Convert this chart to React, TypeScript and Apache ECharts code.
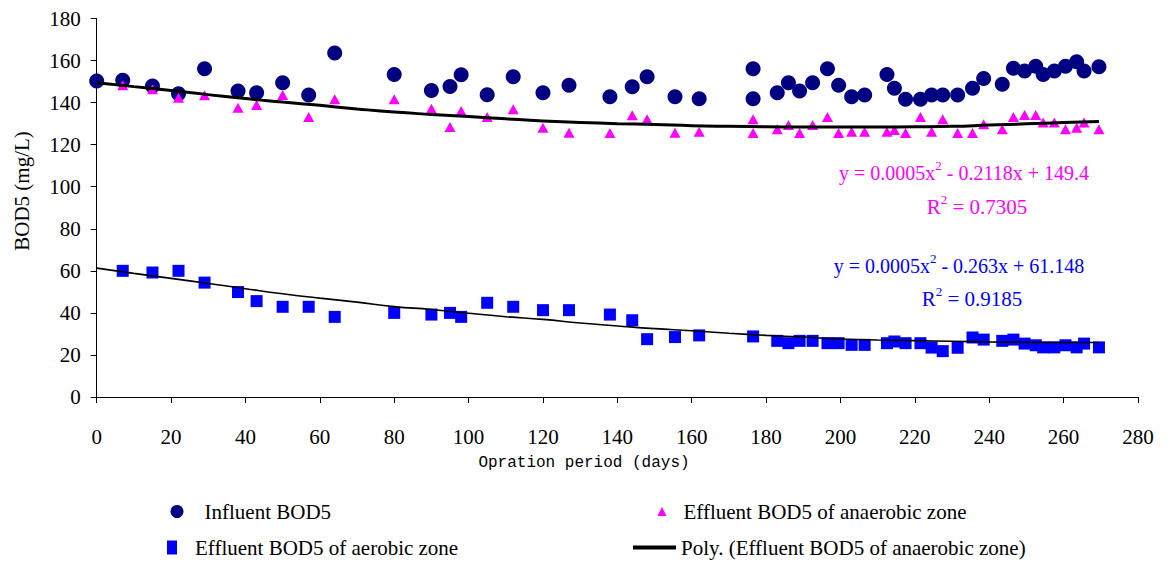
import React, { useEffect, useRef } from "react";
import * as echarts from "echarts";

const xTicks = { min: 0, max: 280, interval: 20 };
const yTicks = { min: 0, max: 180, interval: 20 };

const influentDays = [0, 7, 15, 22, 29, 38, 43, 50, 57, 64, 80, 90, 95, 98, 105, 112, 120, 127, 138, 144, 148, 155.5, 162, 176.5, 176.5, 183, 186, 189, 192.5, 196.5, 199.5, 203, 206.5, 212.5, 214.5, 217.5, 221.5, 224.5, 227.5, 231.5, 235.5, 238.5, 243.5, 246.5, 249.5, 252.5, 254.5, 257.5, 260.5, 263.5, 265.5, 269.5];
const influentValues = [150.3, 150.6, 147.9, 144.2, 156.1, 145.5, 144.7, 149.4, 143.6, 163.6, 153.4, 145.8, 147.7, 153.2, 143.7, 152.3, 144.7, 148.3, 142.8, 147.5, 152.3, 142.8, 141.8, 156.1, 141.8, 144.7, 149.4, 145.5, 149.4, 156.1, 148.3, 142.8, 143.6, 153.4, 146.8, 141.6, 141.6, 143.6, 143.6, 143.6, 146.8, 151.5, 148.7, 156.3, 155.0, 157.3, 153.4, 155.0, 157.3, 159.4, 155.0, 157.0];

const anaerobicDays = [7, 15, 22, 29, 38, 43, 50, 57, 64, 80, 90, 95, 98, 105, 112, 120, 127, 138, 144, 148, 155.5, 162, 176.5, 176.5, 183, 186, 189, 192.5, 196.5, 199.5, 203, 206.5, 212.5, 214.5, 217.5, 221.5, 224.5, 227.5, 231.5, 235.5, 238.5, 243.5, 246.5, 249.5, 252.5, 254.5, 257.5, 260.5, 263.5, 265.5, 269.5];
const anaerobicValues = [148.3, 146.3, 142.3, 143.5, 137.6, 138.9, 143.6, 133.2, 141.6, 141.6, 137.1, 128.4, 136.0, 133.2, 136.8, 128.1, 125.7, 125.5, 134.0, 132.1, 125.7, 126.2, 132.1, 125.5, 127.3, 129.4, 125.5, 129.4, 133.2, 125.5, 126.2, 126.2, 126.2, 127.0, 125.5, 133.2, 126.1, 132.1, 125.5, 125.5, 129.7, 127.3, 133.2, 134.1, 134.1, 130.5, 130.5, 127.3, 128.1, 130.5, 127.3];

const aerobicDays = [7, 15, 22, 29, 38, 43, 50, 57, 64, 80, 90, 95, 98, 105, 112, 120, 127, 138, 144, 148, 155.5, 162, 176.5, 183, 186, 189, 192.5, 196.5, 199.5, 203, 206.5, 212.5, 214.5, 217.5, 221.5, 224.5, 227.5, 231.5, 235.5, 238.5, 243.5, 246.5, 249.5, 252.5, 254.5, 257.5, 260.5, 263.5, 265.5, 269.5];
const aerobicValues = [60.0, 59.2, 60.0, 54.4, 49.9, 45.6, 42.9, 42.9, 38.1, 40.0, 39.2, 40.0, 38.1, 44.8, 42.9, 41.3, 41.3, 39.2, 36.5, 27.5, 28.5, 29.3, 28.8, 26.7, 25.6, 26.7, 26.7, 25.6, 25.6, 24.8, 24.8, 25.6, 26.4, 25.6, 25.6, 23.5, 21.8, 23.4, 28.3, 27.3, 26.7, 27.3, 25.4, 24.6, 23.6, 23.6, 24.6, 23.6, 25.4, 23.6];

const trendDays = [0, 10, 20, 30, 40, 50, 60, 70, 80, 90, 100, 110, 120, 130, 140, 150, 160, 170, 180, 190, 200, 210, 220, 230, 240, 250, 260, 269.5];
const trendAnaerobic = [149.4, 147.6, 145.8, 143.8, 141.9, 140.3, 138.7, 137.0, 135.5, 134.4, 133.4, 132.3, 131.3, 130.6, 130.0, 129.6, 129.0, 128.7, 128.5, 128.4, 128.4, 128.4, 128.5, 128.7, 129.3, 129.9, 130.5, 131.0];
const trendAerobic = [61.3, 58.8, 56.4, 54.0, 51.5, 49.1, 47.0, 45.1, 43.0, 41.6, 39.8, 38.2, 36.9, 35.2, 33.8, 32.5, 31.5, 30.3, 29.3, 28.5, 27.6, 27.1, 26.8, 26.5, 26.2, 26.0, 25.9, 25.9];

const seriesNames = [
  "Influent BOD5",
  "Effluent BOD5 of anaerobic zone",
  "Effluent BOD5 of aerobic zone",
  "Poly. (Effluent BOD5 of anaerobic zone)",
  "Poly. (Effluent BOD5 of aerobic zone)",
];
const yAxisTitle = "BOD5 (mg/L)";
const xAxisTitle = "Opration period (days)";

const SERIF = "Liberation Serif";
const MONO = "Liberation Mono";

const pairs = (xs: number[], ys: number[]) => xs.map((x, i) => [x, ys[i]]);

function eqText(pre: string, post: string, color: string, x: number, y: number, size: number) {
  return {
    type: "text",
    x,
    y,
    z: 10,
    style: {
      text: `{a|${pre}}{s|2}{a|${post}}`,
      align: "center",
      verticalAlign: "middle",
      rich: {
        a: { fill: color, fontSize: size, fontFamily: SERIF, lineHeight: 24, verticalAlign: "bottom" },
        s: { fill: color, fontSize: 13, fontFamily: SERIF, lineHeight: 24, verticalAlign: "top" },
      },
    },
  };
}

export default function App() {
  const ref = useRef<HTMLDivElement>(null);
  useEffect(() => {
    if (!ref.current) return;
    const chart = echarts.init(ref.current, undefined, { renderer: "svg" });
    const legendText = { color: "#000", fontSize: 21, fontFamily: SERIF };
    chart.setOption({
      animation: false,
      backgroundColor: "#fff",
      textStyle: { fontFamily: SERIF },
      grid: { left: 96.7, right: 30, top: 18.5, bottom: 166, containLabel: false },
      xAxis: {
        type: "value",
        ...xTicks,
        axisLine: { show: true, lineStyle: { color: "#000", width: 1 } },
        axisTick: { show: true, length: 6, lineStyle: { color: "#000" } },
        axisLabel: { color: "#000", fontSize: 21, fontFamily: SERIF, margin: 29 },
        splitLine: { show: false },
      },
      yAxis: {
        type: "value",
        ...yTicks,
        axisLine: { show: true, lineStyle: { color: "#000", width: 1 } },
        axisTick: { show: true, length: 6, lineStyle: { color: "#000" } },
        axisLabel: { color: "#000", fontSize: 21, fontFamily: SERIF, margin: 16 },
        splitLine: { show: false },
      },
      legend: [
        {
          data: [seriesNames[0]], left: 170.5, top: 501, padding: 0, selectedMode: false,
          icon: "circle", itemWidth: 13, itemHeight: 13, itemStyle: { opacity: 1 },
          textStyle: { ...legendText, padding: [0, 0, 0, 16] },
        },
        {
          data: [seriesNames[1]], left: 657.5, top: 501, padding: 0, selectedMode: false,
          icon: "triangle", itemWidth: 9, itemHeight: 9, itemStyle: { opacity: 1 },
          textStyle: { ...legendText, padding: [0, 0, 0, 12] },
        },
        {
          data: [seriesNames[2]], left: 167, top: 537, padding: 0, selectedMode: false,
          icon: "rect", itemWidth: 10, itemHeight: 14, itemStyle: { opacity: 1 },
          textStyle: { ...legendText, padding: [0, 0, 0, 13] },
        },
        {
          data: [seriesNames[3]], left: 633, top: 537, padding: 0, selectedMode: false,
          icon: "rect", itemWidth: 43, itemHeight: 4, itemStyle: { color: "#000", opacity: 1 },
          textStyle: { ...legendText, padding: [0, 0, 0, 0] },
        },
      ],
      series: [
        {
          name: seriesNames[0], type: "scatter", data: pairs(influentDays, influentValues),
          symbol: "circle", symbolSize: 15, itemStyle: { color: "#000080", opacity: 1 }, z: 2,
        },
        {
          name: seriesNames[1], type: "scatter", data: pairs(anaerobicDays, anaerobicValues),
          symbol: "triangle", symbolSize: [11, 10], itemStyle: { color: "#FF00FF", opacity: 1 }, z: 3,
        },
        {
          name: seriesNames[2], type: "scatter", data: pairs(aerobicDays, aerobicValues),
          symbol: "rect", symbolSize: 12, itemStyle: { color: "#0000FF", opacity: 1 }, z: 3,
        },
        {
          name: seriesNames[3], type: "line", data: pairs(trendDays, trendAnaerobic),
          symbol: "none", smooth: true, lineStyle: { color: "#000", width: 3 }, itemStyle: { color: "#000" }, z: 5,
        },
        {
          name: seriesNames[4], type: "line", data: pairs(trendDays, trendAerobic),
          symbol: "none", smooth: true, lineStyle: { color: "#000", width: 1.6 }, itemStyle: { color: "#000" }, z: 5,
        },
      ],
      graphic: [
        {
          type: "text", x: 22, y: 191, rotation: Math.PI / 2,
          style: { text: yAxisTitle, fill: "#000", fontSize: 21, fontFamily: SERIF, align: "center", verticalAlign: "middle" },
        },
        {
          type: "text", x: 584, y: 463,
          style: { text: xAxisTitle, fill: "#000", fontSize: 16, fontFamily: MONO, align: "center", verticalAlign: "middle" },
        },
        eqText("y = 0.0005x", " - 0.2118x + 149.4", "#FF00FF", 964, 171, 20),
        eqText("R", " = 0.7305", "#FF00FF", 977, 205, 21),
        eqText("y = 0.0005x", " - 0.263x + 61.148", "#0000FF", 959, 264, 20),
        eqText("R", " = 0.9185", "#0000FF", 972, 297, 21),
      ],
    });
    return () => chart.dispose();
  }, []);
  return (
    <div
      ref={ref}
      style={{ position: "fixed", left: 0, top: 0, width: 1168, height: 563, background: "#fff" }}
    />
  );
}
